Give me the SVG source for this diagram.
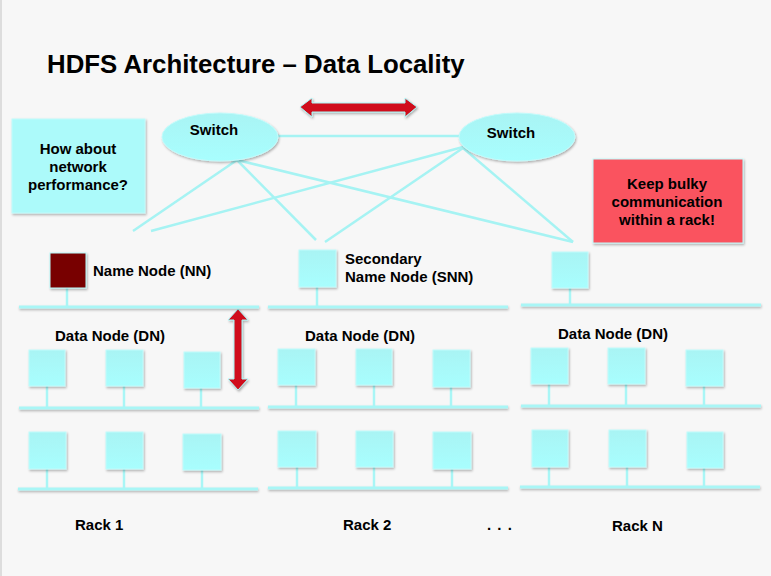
<svg xmlns="http://www.w3.org/2000/svg" width="771" height="576" viewBox="0 0 771 576">
<defs>
<filter id="sh" x="-20%" y="-20%" width="150%" height="150%"><feDropShadow dx="1" dy="1.5" stdDeviation="1" flood-color="#000" flood-opacity="0.3"/></filter>
<filter id="shb" filterUnits="userSpaceOnUse" x="0" y="0" width="771" height="576"><feDropShadow dx="0.5" dy="1.5" stdDeviation="0.8" flood-color="#000" flood-opacity="0.3"/></filter>
<linearGradient id="cy" x1="0" y1="0" x2="0" y2="1"><stop offset="0" stop-color="#a9f4f4"/><stop offset="1" stop-color="#a8fefe"/></linearGradient>
</defs>
<style>
text{font-family:"Liberation Sans",Arial,sans-serif;font-weight:bold;fill:#000;font-size:15px}
.sq{fill:url(#cy);stroke:#c2fbfb;stroke-width:1;filter:url(#sh)}
.stem{stroke:#a9f6f6;stroke-width:2.5}
.bus{fill:#a9f6f6;filter:url(#shb)}
.link{stroke:#a6f3f3;stroke-width:2.5;fill:none}
.arrow{fill:#d0101a;stroke:#a9f6f6;stroke-width:1;filter:url(#sh)}
.mid{text-anchor:middle}
</style>
<rect width="771" height="576" fill="#f7f7f7"/>
<line x1="1" y1="0" x2="1" y2="576" stroke="#d4d4d4" stroke-width="1.5"/>
<text x="47" y="73" style="font-size:25.8px">HDFS Architecture – Data Locality</text>

<g id="connectors">
<line class="link" x1="276" y1="136" x2="461" y2="136"/>
<line class="link" x1="237" y1="160" x2="133" y2="231"/>
<line class="link" x1="237" y1="160" x2="316" y2="240"/>
<line class="link" x1="237" y1="160" x2="573" y2="242"/>
<line class="link" x1="463" y1="147" x2="151" y2="231"/>
<line class="link" x1="463" y1="148" x2="325" y2="242"/>
<line class="link" x1="463" y1="148" x2="573" y2="242"/>
</g>

<g id="arrow-h"><polygon class="arrow" points="300,107 312,98 312,103 405,103 405,98 417,107 405,117 405,112 312,112 312,117"/></g>
<g id="arrow-v"><polygon class="arrow" points="238,309 248,320 242,320 242,379 248,379 238,390 228,379 234,379 234,320 228,320"/></g>

<g id="switch1"><ellipse cx="220" cy="137" rx="58" ry="24" fill="url(#cy)" stroke="#c2fbfb" filter="url(#sh)"/><text class="mid" x="214" y="135">Switch</text></g>
<g id="switch2"><ellipse cx="517" cy="137" rx="58" ry="24" fill="url(#cy)" stroke="#c2fbfb" filter="url(#sh)"/><text class="mid" x="511" y="138">Switch</text></g>

<g id="note-network"><rect x="12" y="119" width="133" height="94" fill="#acfafa" stroke="#c2fbfb" filter="url(#sh)"/>
<text class="mid" x="78" y="154">How about</text><text class="mid" x="78" y="172">network</text><text class="mid" x="78" y="190">performance?</text></g>

<g id="note-rack"><rect x="593" y="159" width="150" height="84" fill="#fa525e" stroke="#c2fbfb" filter="url(#sh)"/>
<text class="mid" x="667" y="189">Keep bulky</text><text class="mid" x="667" y="207">communication</text><text class="mid" x="667" y="225">within a rack!</text></g>

<g id="rack1">
<rect class="bus" x="19" y="305.5" width="240" height="3"/>
<line class="stem" x1="67" y1="288" x2="67" y2="306"/>
<rect x="50" y="253" width="36" height="35" fill="#780505" stroke="#b8f8f8" filter="url(#sh)"/>
<text x="93" y="276">Name Node (NN)</text>
<text x="55" y="341">Data Node (DN)</text>
<rect class="bus" x="19" y="406.5" width="240" height="3"/>
<line class="stem" x1="47" y1="386" x2="47" y2="407"/><line class="stem" x1="124" y1="386" x2="124" y2="407"/><line class="stem" x1="201" y1="388" x2="201" y2="407"/>
<rect class="sq" x="29" y="350" width="36" height="36"/><rect class="sq" x="106" y="350" width="37" height="36"/><rect class="sq" x="184" y="352" width="36" height="36"/>
<rect class="bus" x="18" y="487.5" width="240" height="3"/>
<line class="stem" x1="47" y1="469" x2="47" y2="488"/><line class="stem" x1="124" y1="469" x2="124" y2="488"/><line class="stem" x1="202" y1="470" x2="202" y2="488"/>
<rect class="sq" x="29" y="432" width="37" height="37"/><rect class="sq" x="106" y="432" width="37" height="37"/><rect class="sq" x="183" y="434" width="38" height="36"/>
<text x="75" y="530">Rack 1</text>
</g>

<g id="rack2">
<rect class="bus" x="268" y="305.5" width="240" height="3"/>
<line class="stem" x1="317" y1="287" x2="317" y2="306"/>
<rect class="sq" x="299" y="250" width="37" height="37"/>
<text x="345" y="264">Secondary</text><text x="345" y="282">Name Node (SNN)</text>
<text x="305" y="341">Data Node (DN)</text>
<rect class="bus" x="268" y="405.5" width="240" height="3"/>
<line class="stem" x1="296" y1="385" x2="296" y2="406"/><line class="stem" x1="374" y1="385" x2="374" y2="406"/><line class="stem" x1="451" y1="387" x2="451" y2="406"/>
<rect class="sq" x="278" y="349" width="37" height="36"/><rect class="sq" x="356" y="349" width="36" height="36"/><rect class="sq" x="433" y="350" width="37" height="37"/>
<rect class="bus" x="268" y="486.5" width="240" height="3"/>
<line class="stem" x1="297" y1="467" x2="297" y2="487"/><line class="stem" x1="374" y1="467" x2="374" y2="487"/><line class="stem" x1="452" y1="469" x2="452" y2="487"/>
<rect class="sq" x="278" y="431" width="38" height="36"/><rect class="sq" x="356" y="431" width="37" height="36"/><rect class="sq" x="433" y="432" width="38" height="37"/>
<text x="343" y="530">Rack 2</text>
</g>

<text x="487" y="530" style="letter-spacing:1px">. . .</text>

<g id="rackN">
<rect class="bus" x="521" y="303.5" width="240" height="3"/>
<line class="stem" x1="570" y1="288" x2="570" y2="304"/>
<rect class="sq" x="552" y="252" width="36" height="36"/>
<text x="558" y="339">Data Node (DN)</text>
<rect class="bus" x="521" y="404.5" width="240" height="3"/>
<line class="stem" x1="549" y1="384" x2="549" y2="405"/><line class="stem" x1="626" y1="384" x2="626" y2="405"/><line class="stem" x1="704" y1="386" x2="704" y2="405"/>
<rect class="sq" x="531" y="348" width="37" height="36"/><rect class="sq" x="608" y="348" width="37" height="36"/><rect class="sq" x="686" y="350" width="37" height="36"/>
<rect class="bus" x="520" y="485.5" width="240" height="3"/>
<line class="stem" x1="549" y1="467" x2="549" y2="486"/><line class="stem" x1="627" y1="467" x2="627" y2="486"/><line class="stem" x1="704" y1="468" x2="704" y2="486"/>
<rect class="sq" x="532" y="430" width="36" height="37"/><rect class="sq" x="609" y="430" width="37" height="37"/><rect class="sq" x="687" y="432" width="36" height="36"/>
<text x="612" y="531">Rack N</text>
</g>
</svg>
